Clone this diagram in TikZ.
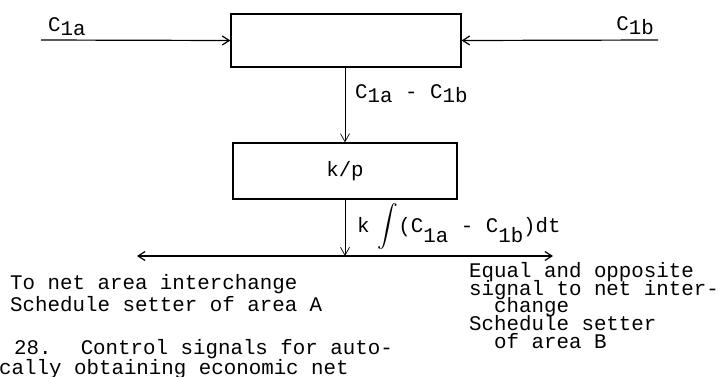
\documentclass[tikz,border=0pt]{standalone}
\usepackage{amsmath}
\usepackage{fontspec}
\setmainfont{Liberation Mono}
\usepackage{tikz}
\usetikzlibrary{arrows.meta}
\newcommand{\csub}[2][4pt]{C\raisebox{-#1}{#2}}
\newcommand{\tightlines}{\lineskiplimit=-100pt\relax\lineskip=0pt\relax}
\tikzset{
  blockbox/.style = {draw,line width=1.3pt,inner sep=0pt},
  sigarr/.style   = {-{Straight Barb[length=7pt,width=9pt]},line width=1.2pt},
  droparr/.style  = {-{Straight Barb[length=8pt,width=9pt]},line width=0.7pt},
  typed/.style    = {font=\fontsize{20.8}{21}\selectfont,inner sep=0pt}
}
\begin{document}
\begin{tikzpicture}[x=1pt,y=-1pt]
  \useasboundingbox (0,0) rectangle (719,376);
  \node[blockbox,minimum width=230pt,minimum height=53pt] (sum) at (346,40.5) {};
  \node[blockbox,typed,minimum width=224pt,minimum height=56pt] (kp) at (345,171) {k/p};
  \coordinate (inA) at (41,40);
  \coordinate (inB) at (658,40);
  \coordinate (split) at (345,256);
  \coordinate (outA) at (137,256);
  \coordinate (outB) at (553,256);
  \draw[sigarr] (inA) -- (sum.west);
  \draw[sigarr] (inB) -- (sum.east);
  \draw[droparr] (sum.south -| kp.north) -- (kp.north);
  \draw[droparr] (kp.south) -- (split);
  \draw[sigarr] (split) -- (outA);
  \draw[sigarr] (split) -- (outB);
  \node[typed,anchor=base west] (labA) at (48,31) {\csub{1a}};
  \node[typed,anchor=base east] (labB) at (654,30) {\csub{1b}};
  \node[typed,anchor=base west] (diff) at (355,98) {\csub{1a} - \csub{1b}};
  \node[typed,anchor=base west] (intg) at (357,232)
    {k\hspace{8pt}$\displaystyle\int$(\csub[10pt]{1a} - \csub[10pt]{1b})dt};
  \node[typed,anchor=base west,align=left,font=\fontsize{20.8}{22}\selectfont] (toA) at (10,311)
    {To net area interchange\\Schedule setter of area A};
  \node[typed,anchor=base west,align=left,font=\fontsize{20.8}{19.5}\selectfont] (cap) at (-1,374)
    {\hspace*{15pt}28.~ Control signals for auto-\\cally obtaining economic net};
  \node[typed,anchor=base west,align=left,font=\fontsize{20.8}{17.6}\selectfont\tightlines] (toB) at (469,348)
    {Equal and opposite\\signal to net inter-\\\hspace*{25pt}change\\Schedule setter\\\hspace*{25pt}of area B};
\end{tikzpicture}
\end{document}
